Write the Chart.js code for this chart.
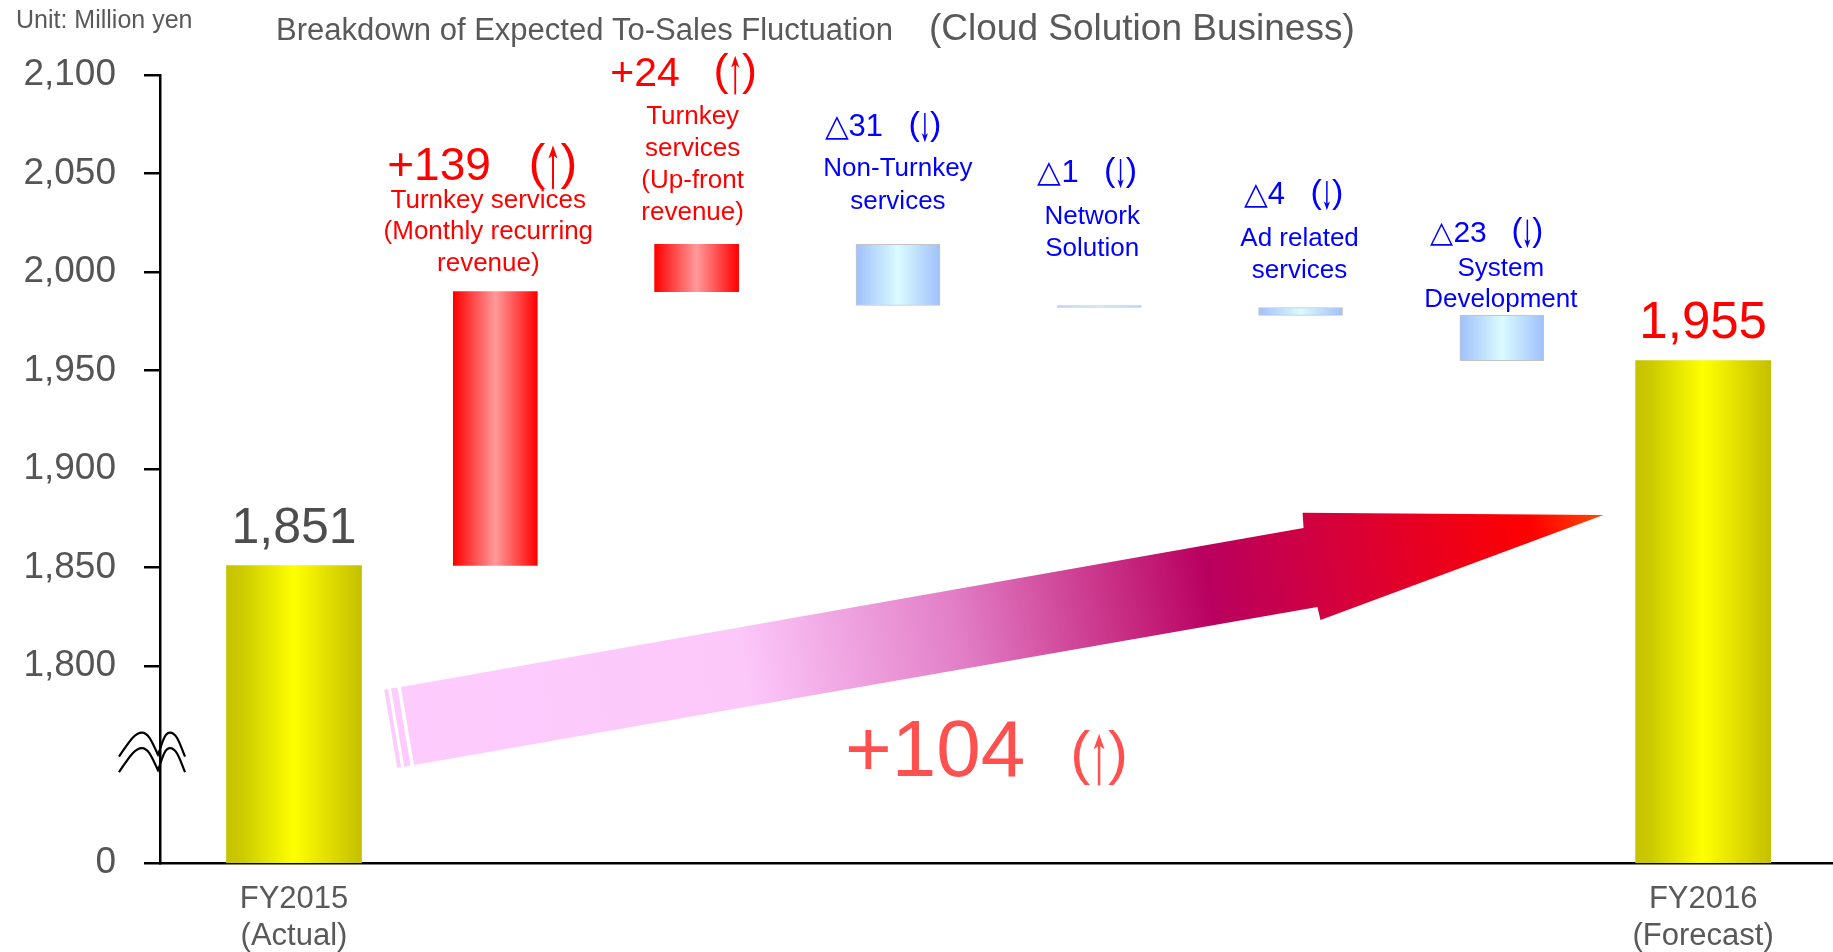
<!DOCTYPE html>
<html>
<head>
<meta charset="utf-8">
<script src="https://cdn.jsdelivr.net/npm/chart.js@4/dist/chart.umd.min.js"></script>
<style>
  html, body { margin: 0; padding: 0; background: #fff; }
  #wrap { width: 1833px; height: 952px; }
</style>
</head>
<body>
<div id="wrap"><canvas id="salesBridge"></canvas></div>
<script>
// sales bridge FY2015 -> FY2016 (million yen)
const startValue = 1851;
const endValue = 1955;
const changes = [139, 24, -31, -1, -4, -23];
const changeNames = [
  ['Turnkey services', '(Monthly recurring', 'revenue)'],
  ['Turnkey', 'services', '(Up-front', 'revenue)'],
  ['Non-Turnkey', 'services'],
  ['Network', 'Solution'],
  ['Ad related', 'services'],
  ['System', 'Development']
];
const totalLabels = [['FY2015', '(Actual)'], ['FY2016', '(Forecast)']];
// the axis is broken: this value sits where "0" is printed
const axisFloor = 1700;
const tickValues = [1800, 1850, 1900, 1950, 2000, 2050, 2100];

const FONT = '"Liberation Sans", Arial, sans-serif';

// label placement above each change bar (px above bar top)
const changeLayout = [
  { size: 46, valueRise: 112, textRise: 84, lineGap: 31.5, dx: -13, tdx: -7 },
  { size: 41, valueRise: 158, textRise: 120, lineGap: 32, dx: -13, tdx: -4 },
  { size: 31, valueRise: 108, textRise: 68, lineGap: 33, dx: -15, tdx: 0 },
  { size: 31, valueRise: 123, textRise: 81, lineGap: 32, dx: -12, tdx: -7 },
  { size: 31, valueRise: 103, textRise: 61, lineGap: 32, dx: -7, tdx: -1 },
  { size: 30, valueRise: 73, textRise: 39, lineGap: 31, dx: -15, tdx: -1 }
];

// waterfall segments
let level = startValue;
const changeBars = changes.map((c, i) => {
  const from = level;
  level += c;
  return { x: i + 1, y: [from, level] };
});
const totalBars = [
  { x: 0, y: [axisFloor, startValue] },
  { x: changes.length + 1, y: [axisFloor, endValue] }
];

const yellowStops = [[0, '#c6c200'], [0.12, '#cccb00'], [0.5, '#ffff00'], [0.85, '#d6d200'], [1, '#c4c000']];
const redStops = [[0, '#ff0000'], [0.5, '#ff9a9a'], [1, '#ff0000']];
const blueStops = [[0, '#a0c0fc'], [0.5, '#dafbff'], [1, '#a0c0fc']];

function barGradient(context, width, stops) {
  const chart = context.chart;
  if (!chart.chartArea || !context.raw) return stops[0][1];
  const cx = chart.scales.x.getPixelForValue(context.raw.x);
  const g = chart.ctx.createLinearGradient(cx - width / 2, 0, cx + width / 2, 0);
  stops.forEach(([o, c]) => g.addColorStop(o, c));
  return g;
}

function drawParenArrow(ctx, x, baseline, size, up, color) {
  ctx.font = size + 'px ' + FONT;
  ctx.textAlign = 'left';
  ctx.fillStyle = color;
  const pw = ctx.measureText('(').width;
  const inner = size * 0.3;
  ctx.fillText('(', x, baseline);
  ctx.fillText(')', x + pw + inner, baseline);
  const ax = x + pw + inner / 2;
  const top = baseline - size * 0.66;
  const bot = baseline + size * 0.2;
  const head = size * 0.26, hw = size * 0.09;
  ctx.strokeStyle = color;
  ctx.lineWidth = Math.max(1.5, size * 0.04);
  ctx.beginPath();
  if (up) {
    ctx.moveTo(ax, bot); ctx.lineTo(ax, top + head * 0.5);
  } else {
    ctx.moveTo(ax, top); ctx.lineTo(ax, bot - head * 0.5);
  }
  ctx.stroke();
  ctx.beginPath();
  if (up) {
    ctx.moveTo(ax, top); ctx.lineTo(ax - hw, top + head); ctx.lineTo(ax, top + head * 0.75); ctx.lineTo(ax + hw, top + head);
  } else {
    ctx.moveTo(ax, bot); ctx.lineTo(ax - hw, bot - head); ctx.lineTo(ax, bot - head * 0.75); ctx.lineTo(ax + hw, bot - head);
  }
  ctx.closePath();
  ctx.fill();
  return 2 * pw + inner;
}

function parenArrowWidth(ctx, size) {
  ctx.font = size + 'px ' + FONT;
  return 2 * ctx.measureText('(').width + size * 0.3;
}

// one wavy "M" stroke of the axis break mark
function breakStroke(ctx, bx, y0) {
  const S = [bx - 41, y0 + 2], P1 = [bx - 18, y0 - 22], V = [bx - 2, y0], P2 = [bx + 10, y0 - 22], E = [bx + 25, y0 + 2];
  ctx.beginPath();
  ctx.moveTo(S[0], S[1]);
  ctx.bezierCurveTo(S[0] + 9, S[1] - 13, P1[0] - 8, P1[1], P1[0], P1[1]);
  ctx.bezierCurveTo(P1[0] + 7, P1[1], V[0] - 5, V[1] - 10, V[0], V[1]);
  ctx.bezierCurveTo(V[0] + 4, V[1] - 10, P2[0] - 6, P2[1], P2[0], P2[1]);
  ctx.bezierCurveTo(P2[0] + 7, P2[1], E[0] - 5, E[1] - 12, E[0], E[1]);
  ctx.stroke();
}

const bridgeDecor = {
  id: 'bridgeDecor',
  beforeDatasetsDraw(chart) {
    // big trend arrow behind the bars
    const { ctx } = chart;
    const xs = chart.scales.x, ys = chart.scales.y;
    const P = (xv, yv) => [xs.getPixelForValue(xv), ys.getPixelForValue(yv)];
    const tailTop = P(0.531, 1789.4), tailBot = P(0.596, 1749.8);
    const shaftTop = P(5.015, 1870.1), headTop = P(5.010, 1877.8);
    const tip = P(6.504, 1876.7);
    const headBot = P(5.099, 1823.4), shaftBot = P(5.084, 1830.0);
    const mid = [(tailTop[0] + tailBot[0]) / 2, (tailTop[1] + tailBot[1]) / 2];
    const g = ctx.createLinearGradient(mid[0], mid[1], tip[0], tip[1]);
    g.addColorStop(0, '#fdccfd');
    g.addColorStop(0.28, '#fcc8fa');
    g.addColorStop(0.46, '#e27ec6');
    g.addColorStop(0.67, '#b9005f');
    g.addColorStop(0.78, '#d6003a');
    g.addColorStop(0.94, '#ff0000');
    g.addColorStop(1, '#ff4a00');
    ctx.save();
    ctx.fillStyle = g;
    ctx.beginPath();
    ctx.moveTo(...tailTop);
    ctx.lineTo(...shaftTop);
    ctx.lineTo(...headTop);
    ctx.lineTo(...tip);
    ctx.lineTo(...headBot);
    ctx.lineTo(...shaftBot);
    ctx.lineTo(...tailBot);
    ctx.closePath();
    ctx.fill();
    // two thin slivers at the tail
    const dx = shaftTop[0] - tailTop[0], dy = shaftTop[1] - tailTop[1];
    const len = Math.hypot(dx, dy), ux = dx / len, uy = dy / len;
    ctx.fillStyle = '#fdccfd';
    [[-10, -3.5], [-17, -13]].forEach(([a, b]) => {
      ctx.beginPath();
      ctx.moveTo(tailTop[0] + ux * a, tailTop[1] + uy * a);
      ctx.lineTo(tailTop[0] + ux * b, tailTop[1] + uy * b);
      ctx.lineTo(tailBot[0] + ux * b, tailBot[1] + uy * b);
      ctx.lineTo(tailBot[0] + ux * a, tailBot[1] + uy * a);
      ctx.closePath();
      ctx.fill();
    });
    ctx.restore();
  },
  afterDraw(chart) {
    const { ctx } = chart;
    const xs = chart.scales.x, ys = chart.scales.y;
    ctx.save();
    ctx.textBaseline = 'alphabetic';

    // axis break mark
    const bx = chart.chartArea.left;
    const by = ys.getPixelForValue(1755);
    ctx.strokeStyle = '#000';
    ctx.lineWidth = 2.2;
    breakStroke(ctx, bx, by);
    breakStroke(ctx, bx, by + 15.5);

    // unit and title
    ctx.fillStyle = '#595959';
    ctx.textAlign = 'left';
    ctx.font = '25px ' + FONT;
    ctx.fillText('Unit: Million yen', 16, 28);
    ctx.font = '31px ' + FONT;
    ctx.fillText('Breakdown of Expected To-Sales Fluctuation', 276, 40);
    ctx.font = '37px ' + FONT;
    ctx.fillText('(Cloud Solution Business)', 929, 40);

    // totals
    ctx.textAlign = 'center';
    ctx.font = '50px ' + FONT;
    ctx.fillStyle = '#4d4d4d';
    ctx.fillText(startValue.toLocaleString('en-US'), xs.getPixelForValue(0), ys.getPixelForValue(startValue) - 23);
    ctx.font = '51px ' + FONT;
    ctx.fillStyle = '#ff0000';
    ctx.fillText(endValue.toLocaleString('en-US'), xs.getPixelForValue(changes.length + 1), ys.getPixelForValue(endValue) - 23);

    // change labels
    changes.forEach((c, i) => {
      const L = changeLayout[i];
      const up = c > 0;
      const color = up ? '#ff0000' : '#0000ff';
      const cx = xs.getPixelForValue(i + 1);
      const topPx = ys.getPixelForValue(Math.max(changeBars[i].y[0], changeBars[i].y[1]));
      const txt = (up ? '+' : '\u25B3') + Math.abs(c);
      ctx.font = L.size + 'px ' + FONT;
      const tw = ctx.measureText(txt).width;
      const gap = L.size * 0.82;
      const psize = L.size * 1.1;
      const total = tw + gap + parenArrowWidth(ctx, psize);
      const left = cx + L.dx - total / 2;
      const base = topPx - L.valueRise;
      ctx.font = L.size + 'px ' + FONT;
      ctx.textAlign = 'left';
      ctx.fillStyle = color;
      ctx.fillText(txt, left, base);
      drawParenArrow(ctx, left + tw + gap, base - 1, psize, up, color);

      ctx.font = '26px ' + FONT;
      ctx.textAlign = 'center';
      ctx.fillStyle = color;
      changeNames[i].forEach((line, k) => {
        ctx.fillText(line, cx + L.tdx, topPx - L.textRise + k * L.lineGap);
      });
    });

    // net change under the trend arrow
    const net = endValue - startValue;
    const netTxt = (net >= 0 ? '+' : '\u25B3') + Math.abs(net);
    ctx.font = '80px ' + FONT;
    const nw = ctx.measureText(netTxt).width;
    const pw = parenArrowWidth(ctx, 60);
    const ncx = xs.getPixelForValue(3.44);
    const nbase = ys.getPixelForValue(1744);
    const nleft = ncx - (nw + 45 + pw) / 2;
    ctx.font = '80px ' + FONT;
    ctx.textAlign = 'left';
    ctx.fillStyle = '#ff5050';
    ctx.fillText(netTxt, nleft, nbase);
    drawParenArrow(ctx, nleft + nw + 45, nbase - 3, 60, net >= 0, '#ff5050');

    ctx.restore();
  }
};

new Chart(document.getElementById('salesBridge'), {
  type: 'bar',
  data: {
    datasets: [
      {
        label: 'Total',
        data: totalBars,
        grouped: false,
        barThickness: 135,
        maxBarThickness: 135,
        borderWidth: 0,
        backgroundColor: (c) => barGradient(c, 135, yellowStops)
      },
      {
        label: 'Change',
        data: changeBars,
        grouped: false,
        barThickness: 84,
        maxBarThickness: 84,
        borderSkipped: false,
        borderWidth: (c) => (c.raw && c.raw.y[1] < c.raw.y[0]) ? 1 : 0,
        borderColor: '#c4c4c4',
        backgroundColor: (c) => barGradient(c, 84, (c.raw && c.raw.y[1] < c.raw.y[0]) ? blueStops : redStops)
      }
    ]
  },
  options: {
    responsive: true,
    maintainAspectRatio: false,
    animation: false,
    layout: { padding: { top: 75, right: 1, bottom: 0, left: 0 } },
    plugins: { legend: { display: false }, tooltip: { enabled: false } },
    scales: {
      x: {
        type: 'linear',
        offset: false,
        min: -0.6657,
        max: 7.640,
        afterBuildTicks: (scale) => { scale.ticks = [{ value: 0 }, { value: changes.length + 1 }]; },
        afterFit: (scale) => { scale.height = 89; },
        grid: { display: false, drawTicks: false, offset: false },
        border: { display: true, color: '#000', width: 2.5 },
        ticks: {
          autoSkip: false,
          maxRotation: 0,
          padding: 18,
          color: '#595959',
          font: { family: FONT, size: 31, lineHeight: 1.2 },
          callback: (v, i) => totalLabels[i]
        }
      },
      y: {
        min: axisFloor,
        max: 2100,
        afterBuildTicks: (scale) => { scale.ticks = [axisFloor, ...tickValues].map(v => ({ value: v })); },
        afterFit: (scale) => { scale.width = 160; },
        grid: { drawOnChartArea: false, drawTicks: true, tickLength: 16, color: '#000', lineWidth: 2.5 },
        border: { display: true, color: '#000', width: 2.5 },
        ticks: {
          padding: 28,
          color: '#555555',
          font: { family: FONT, size: 37 },
          callback: (v) => v === axisFloor ? '0' : v.toLocaleString('en-US')
        }
      }
    }
  },
  plugins: [bridgeDecor]
});
</script>
</body>
</html>
